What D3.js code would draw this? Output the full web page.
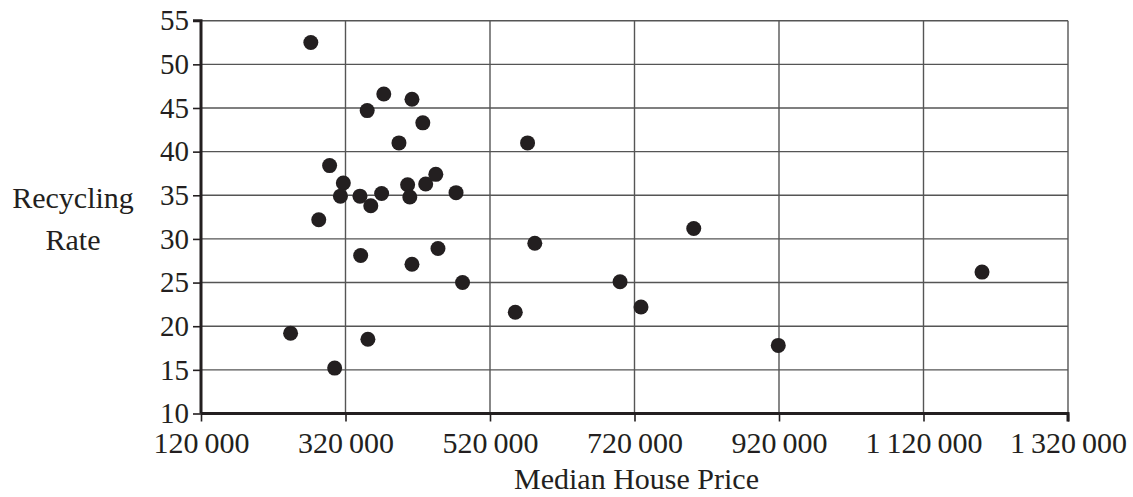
<!DOCTYPE html>
<html>
<head>
<meta charset="utf-8">
<script src="https://cdn.jsdelivr.net/npm/d3@7"></script>
<style>
  body { margin: 0; background: #fff; }
  svg text { font-family: "Liberation Serif", "DejaVu Serif", serif; fill: #231f20; }
</style>
</head>
<body>
<div class="area"></div>
<script>
const width = 1133
const height = 497
const inkColour = "#231f20"
const gridColour = "#555"
const markerSize = 7.5
const serif = "'Liberation Serif', 'DejaVu Serif', serif"

// median house price, recycling rate
const housePrice = [
  272000, 373000, 350000, 412000, 427000, 394000, 572000, 298000, 317000, 313000,
  340000, 355000, 370000, 406000, 409000, 431000, 445000, 473000, 283000, 341000,
  448000, 412000, 582000, 482000, 555000, 244000, 351000, 305000, 802000, 700000,
  729000, 919000, 1201000
]
const recyclingRate = [
  52.5, 46.6, 44.7, 46.0, 43.3, 41.0, 41.0, 38.4, 36.4, 34.9,
  34.9, 33.8, 35.2, 36.2, 34.8, 36.3, 37.4, 35.3, 32.2, 28.1,
  28.9, 27.1, 29.5, 25.0, 21.6, 19.2, 18.5, 15.2, 31.2, 25.1,
  22.2, 17.8, 26.2
]
const xTicks = [120000, 320000, 520000, 720000, 920000, 1120000, 1320000]
const yTicks = [10, 15, 20, 25, 30, 35, 40, 45, 50, 55]

const plotLeft = 201
const plotRight = 1068
const plotTop = 20.7
const plotBottom = 413.5

const svg = d3.select(".area")
  .append("svg")
  .attr("width", width)
  .attr("height", height)

const x = d3.scaleLinear()
  .domain([120000, 1320000])
  .range([plotLeft, plotRight])

const y = d3.scaleLinear()
  .domain([10, 55])
  .range([plotBottom, plotTop])

// thin space between thousands groups
const fmt = d => {
  const s = String(d)
  const parts = []
  for (let i = s.length; i > 0; i -= 3) parts.unshift(s.slice(Math.max(0, i - 3), i))
  return parts.join("\u2009")
}

var gridLayer = svg.append("g")
var axisLayer = svg.append("g")
var markerLayer = svg.append("g")

gridLayer.selectAll(".vgrid")
  .data(xTicks.slice(1))
  .enter()
  .append("line")
  .attr("x1", d => x(d))
  .attr("x2", d => x(d))
  .attr("y1", plotTop)
  .attr("y2", plotBottom)
  .attr("stroke", gridColour)
  .attr("stroke-width", 1.4)

gridLayer.selectAll(".hgrid")
  .data(yTicks.slice(1))
  .enter()
  .append("line")
  .attr("x1", plotLeft)
  .attr("x2", plotRight)
  .attr("y1", d => y(d))
  .attr("y2", d => y(d))
  .attr("stroke", gridColour)
  .attr("stroke-width", 1.4)

const xAxis = axisLayer.append("g")
  .attr("transform", `translate(0, ${plotBottom})`)
  .call(d3.axisBottom(x).tickValues(xTicks).tickFormat(fmt).tickSize(8).tickPadding(10))

const yAxis = axisLayer.append("g")
  .attr("transform", `translate(${plotLeft}, 0)`)
  .call(d3.axisLeft(y).tickValues(yTicks).tickSize(8).tickPadding(4))

for (const ax of [xAxis, yAxis]) {
  ax.attr("font-family", null).attr("font-size", null)
  ax.select(".domain").attr("stroke", inkColour).attr("stroke-width", 3)
  ax.selectAll(".tick line").attr("stroke", inkColour).attr("stroke-width", 1.6)
  ax.selectAll("text")
    .style("font-family", serif)
    .style("font-size", "30px")
    .attr("fill", inkColour)
}
yAxis.selectAll("text").style("font-size", "29px")
yAxis.select(".domain").attr("d", `M-8,${plotTop}H0V${plotBottom}`)
xAxis.select(".domain").attr("d", `M${plotLeft},0H${plotRight}V8`)

svg.append("text")
  .attr("x", 73)
  .attr("y", 208)
  .attr("text-anchor", "middle")
  .style("font-size", "30px")
  .text("Recycling")

svg.append("text")
  .attr("x", 73)
  .attr("y", 250)
  .attr("text-anchor", "middle")
  .style("font-size", "30px")
  .text("Rate")

svg.append("text")
  .attr("x", (plotLeft + plotRight) / 2 + 2)
  .attr("y", 489)
  .attr("text-anchor", "middle")
  .style("font-size", "30px")
  .text("Median House Price")

markerLayer.selectAll("circle")
  .data(d3.zip(housePrice, recyclingRate))
  .enter()
  .append("circle")
  .attr("cx", d => x(d[0]))
  .attr("cy", d => y(d[1]))
  .attr("r", markerSize)
  .attr("fill", inkColour)
</script>
</body>
</html>
